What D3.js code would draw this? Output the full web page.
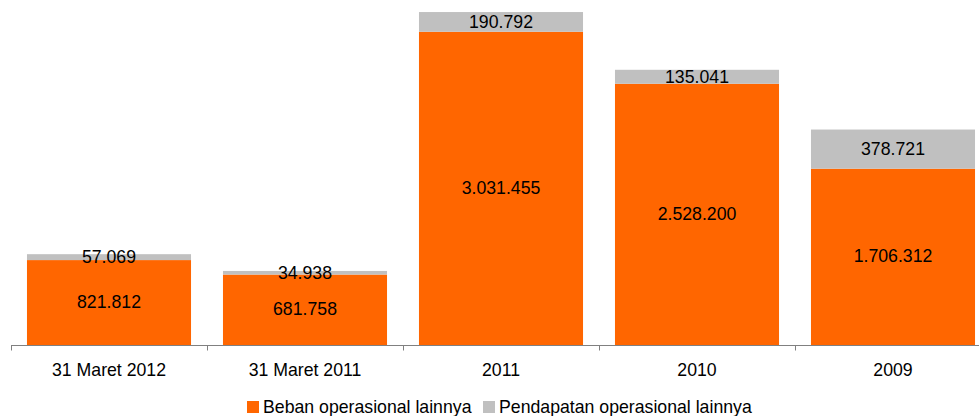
<!DOCTYPE html>
<html>
<head>
<meta charset="utf-8">
<script src="https://cdn.jsdelivr.net/npm/d3@7"></script>
<style>
  body { margin: 0; background: #fff; }
  text { font-family: "Liberation Sans", Arial, sans-serif; fill: #000; }
</style>
</head>
<body>
<div id="chart"></div>
<script>
// data
var categories = ["31 Maret 2012", "31 Maret 2011", "2011", "2010", "2009"];
var beban = [821.812, 681.758, 3031.455, 2528.200, 1706.312];
var pendapatan = [57.069, 34.938, 190.792, 135.041, 378.721];
var bebanLabels = ["821.812", "681.758", "3.031.455", "2.528.200", "1.706.312"];
var pendapatanLabels = ["57.069", "34.938", "190.792", "135.041", "378.721"];
var seriesNames = ["Beban operasional lainnya", "Pendapatan operasional lainnya"];
var colors = ["#FF6600", "#C0C0C0"];

var svgWidth = 979, svgHeight = 416;
var fontSize = 17.7;

var svg = d3.select("#chart").append("svg")
  .attr("width", svgWidth)
  .attr("height", svgHeight);

var xScale = d3.scaleBand()
  .domain(categories)
  .range([11, 991])
  .paddingInner(0.163)
  .paddingOuter(0.0815);

var yScale = d3.scaleLinear()
  .domain([0, 3300])
  .range([345, 4]);

var rows = categories.map(function(c, i) {
  return { cat: c, beban: beban[i], pend: pendapatan[i], bl: bebanLabels[i], pl: pendapatanLabels[i] };
});

var g = svg.append("g");

// orange bars
g.selectAll(".beban").data(rows).enter().append("rect")
  .attr("x", d => xScale(d.cat))
  .attr("width", xScale.bandwidth())
  .attr("y", d => yScale(d.beban))
  .attr("height", d => yScale(0) - yScale(d.beban))
  .attr("fill", colors[0]);

// grey bars on top
g.selectAll(".pend").data(rows).enter().append("rect")
  .attr("x", d => xScale(d.cat))
  .attr("width", xScale.bandwidth())
  .attr("y", d => yScale(d.beban + d.pend))
  .attr("height", d => yScale(d.beban) - yScale(d.beban + d.pend))
  .attr("fill", colors[1]);

// value labels
g.selectAll(".bl").data(rows).enter().append("text")
  .attr("x", d => xScale(d.cat) + xScale.bandwidth() / 2)
  .attr("y", d => yScale(d.beban / 2))
  .attr("dy", "0.3em")
  .attr("text-anchor", "middle")
  .attr("font-size", fontSize)
  .text(d => d.bl);

g.selectAll(".pl").data(rows).enter().append("text")
  .attr("x", d => xScale(d.cat) + xScale.bandwidth() / 2)
  .attr("y", d => yScale(d.beban + d.pend / 2))
  .attr("dy", "0.35em")
  .attr("text-anchor", "middle")
  .attr("font-size", fontSize)
  .text(d => d.pl);

// x axis
var axisG = svg.append("g")
  .attr("transform", "translate(0, 345.5)");
axisG.append("line")
  .attr("x1", 11).attr("x2", 979)
  .attr("stroke", "#808080").attr("stroke-width", 1);
var ticks = categories.map(function(c) { return xScale(c) - xScale.step() * xScale.paddingInner() / 2; });
axisG.selectAll(".tick").data(ticks).enter().append("line")
  .attr("x1", d => Math.round(d) + 0.5).attr("x2", d => Math.round(d) + 0.5)
  .attr("y1", 0).attr("y2", 5)
  .attr("stroke", "#808080");
axisG.selectAll(".cat").data(categories).enter().append("text")
  .attr("x", d => xScale(d) + xScale.bandwidth() / 2)
  .attr("y", 30.5)
  .attr("text-anchor", "middle")
  .attr("font-size", fontSize)
  .text(d => d);

// legend
var legend = svg.append("g").attr("transform", "translate(247, 413)");
var legendX = [0, 236];
seriesNames.forEach(function(name, i) {
  legend.append("rect")
    .attr("x", legendX[i]).attr("y", -12)
    .attr("width", 12).attr("height", 12)
    .attr("fill", colors[i]);
  legend.append("text")
    .attr("x", legendX[i] + 16).attr("y", 0)
    .attr("font-size", fontSize)
    .text(name);
});
</script>
</body>
</html>
